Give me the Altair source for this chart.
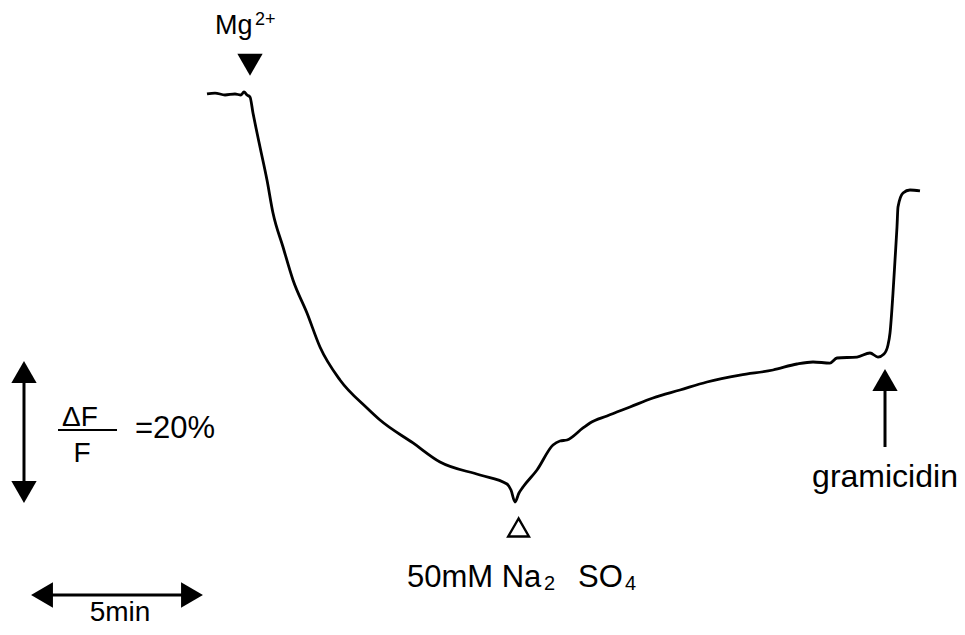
import altair as alt
import pandas as pd

# ---- trace: time (min, 0 = Mg2+ addition) vs fluorescence change dF/F (%) ----
time_min = [-1.194, -0.972, -0.694, -0.417, -0.25, -0.167, -0.083, 0.0, 0.083, 0.167,
            0.278, 0.472, 0.639, 0.917, 1.194, 1.583, 1.944, 2.5, 3.25, 3.611,
            4.528, 5.278, 6.389, 7.139, 7.25, 7.361, 7.472, 7.583, 7.972, 8.417,
            8.611, 8.806, 9.25, 9.444, 9.917, 10.556, 11.194, 11.944, 12.694, 13.611,
            14.528, 15.194, 15.639, 16.111, 16.306, 16.861, 17.222, 17.444, 17.611, 17.722,
            17.778, 17.861, 17.917, 17.972, 18.0, 18.139, 18.333, 18.611]
dff_pct = [0.0, 0.13, -0.13, 0.0, -0.13, 0.27, -0.13, -0.4, -2.53, -4.53,
           -7.07, -11.47, -15.87, -20.4, -24.8, -29.2, -33.73, -38.13, -41.87, -43.47,
           -46.53, -49.07, -50.8, -52.0, -52.8, -54.4, -53.2, -52.4, -50.13, -46.8,
           -46.27, -46.13, -44.53, -43.87, -42.93, -41.73, -40.53, -39.47, -38.4, -37.47,
           -36.8, -36.0, -35.73, -35.87, -35.2, -35.07, -34.53, -35.07, -34.67, -33.47,
           -31.87, -26.53, -22.13, -17.73, -15.07, -13.2, -12.8, -12.93]

# ---- event markers ----
mg_time, mg_level = 0.0, 3.9            # filled triangle (Mg2+)
na_time, na_level = 7.46, -57.8         # open triangle (Na2SO4)
gram_time = 17.639                      # gramicidin arrow
gram_head, gram_tail = -38.13, -47.07

# ---- scale bars ----
vbar_time = -6.278
vbar_top, vbar_bottom = -37.07, -53.07   # 20 % between arrow tips
hbar_level = -66.8
hbar_left, hbar_right = -5.778, -1.611   # 5 min between arrow tips

# ---- labels ----
labels_left = [
    ("Mg", -0.972, 8.0, 27),
    ("2+", 0.139, 9.2, 18),
    ("=20%", -3.194, -45.87, 31),
    ("50mM Na", 4.361, -65.73, 31),
    ("2", 8.17, -66.2, 20),
    ("SO", 9.111, -65.73, 31),
    ("4", 10.42, -66.2, 20),
]
labels_center = [
    ("ΔF", -4.722, -44.3, 28),
    ("F", -4.667, -49.07, 28),
    ("5min", -3.611, -70.27, 28),
    ("gramicidin", 17.639, -52.4, 32),
]
frac_left, frac_right, frac_level = -5.333, -3.694, -44.8

XDOM = [-6.7222, 19.6389]
YDOM = [-71.0667, 11.4667]
FONT = "Liberation Sans"

xs = alt.Scale(domain=XDOM, nice=False, zero=False)
ys = alt.Scale(domain=YDOM, nice=False, zero=False)

trace = pd.DataFrame({"t": time_min, "F": dff_pct, "o": range(len(time_min))})
line = alt.Chart(trace).mark_line(
    color="black", strokeWidth=2.8, strokeJoin="round", interpolate="monotone"
).encode(
    x=alt.X("t:Q", scale=xs, axis=None),
    y=alt.Y("F:Q", scale=ys, axis=None),
    order="o:Q",
)

vrules = pd.DataFrame({
    "t": [vbar_time, gram_time],
    "F": [vbar_top, gram_head],
    "F2": [vbar_bottom, gram_tail],
})
vr = alt.Chart(vrules).mark_rule(color="black", strokeWidth=3).encode(
    x=alt.X("t:Q", scale=xs, axis=None),
    y=alt.Y("F:Q", scale=ys, axis=None),
    y2="F2:Q",
)

hrules = pd.DataFrame({
    "t": [hbar_left, frac_left],
    "t2": [hbar_right, frac_right],
    "F": [hbar_level, frac_level],
    "w": [3, 2],
})
hr = alt.Chart(hrules).mark_rule(color="black").encode(
    x=alt.X("t:Q", scale=xs, axis=None),
    x2="t2:Q",
    y=alt.Y("F:Q", scale=ys, axis=None),
    strokeWidth=alt.StrokeWidth("w:Q", scale=None, legend=None),
)

heads = pd.DataFrame({
    "t": [mg_time, vbar_time, vbar_time, hbar_left, hbar_right, gram_time],
    "F": [mg_level, vbar_top, vbar_bottom, hbar_level, hbar_level, gram_head],
    "shape": ["triangle-down", "triangle-up", "triangle-down", "triangle-left",
              "triangle-right", "triangle-up"],
})
filled = alt.Chart(heads).mark_point(filled=True, color="black", opacity=1, size=640).encode(
    x=alt.X("t:Q", scale=xs, axis=None),
    y=alt.Y("F:Q", scale=ys, axis=None),
    shape=alt.Shape("shape:N", scale=None, legend=None),
)

open_tri = alt.Chart(pd.DataFrame({"t": [na_time], "F": [na_level]})).mark_point(
    shape="triangle-up", filled=False, color="black", strokeWidth=2.4, size=430, opacity=1
).encode(
    x=alt.X("t:Q", scale=xs, axis=None),
    y=alt.Y("F:Q", scale=ys, axis=None),
)

def text_layer(rows, align):
    df = pd.DataFrame(rows, columns=["label", "t", "F", "fs"])
    return alt.Chart(df).mark_text(
        align=align, baseline="alphabetic", font=FONT, color="black"
    ).encode(
        x=alt.X("t:Q", scale=xs, axis=None),
        y=alt.Y("F:Q", scale=ys, axis=None),
        text="label:N",
        size=alt.Size("fs:Q", scale=None, legend=None),
    )

chart = alt.layer(
    line, vr, hr, filled, open_tri,
    text_layer(labels_left, "left"),
    text_layer(labels_center, "center"),
).properties(
    width=949, height=619, padding=0, autosize="none",
    background="white",
).configure_view(stroke=None)

chart.save("out.html", embed_options={"renderer": "svg", "actions": False})
